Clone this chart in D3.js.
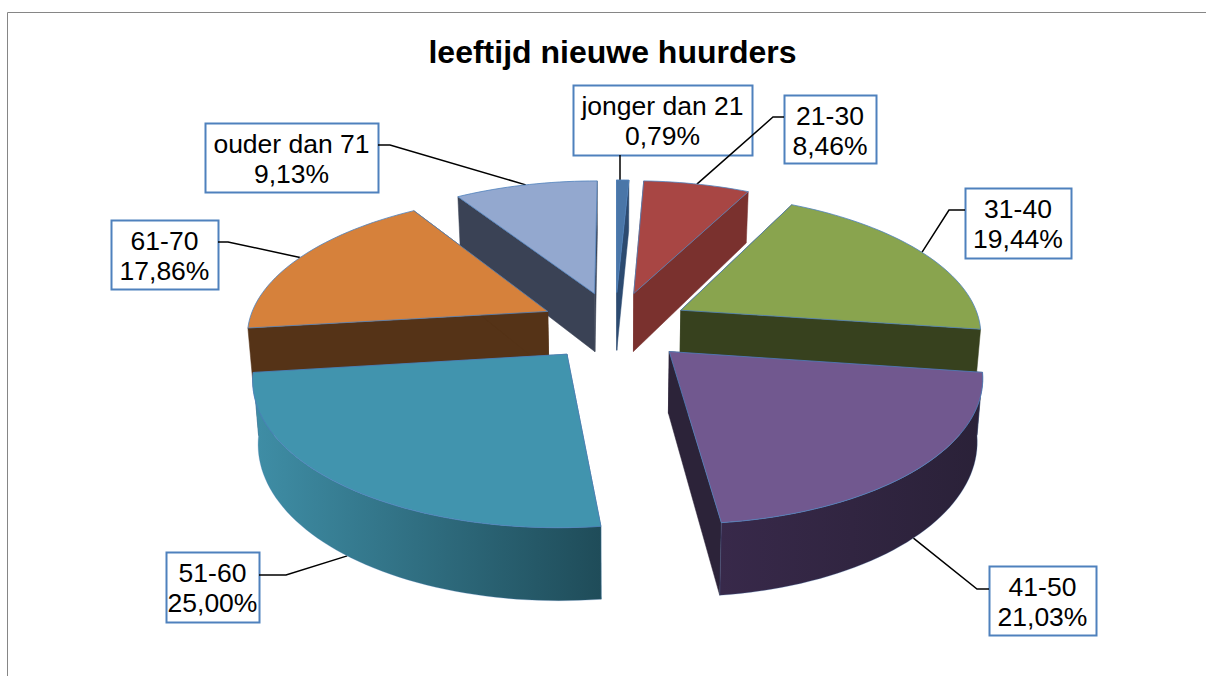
<!DOCTYPE html>
<html><head><meta charset="utf-8">
<script src="https://cdn.jsdelivr.net/npm/d3@7"></script>
<style>html,body{margin:0;background:#fff}svg{display:block}text{font-family:"Liberation Sans",Arial,sans-serif}</style>
</head><body><svg id="c" width="1206" height="676"></svg>
<script>
const categories=["jonger dan 21","21-30","31-40","41-50","51-60","61-70","ouder dan 71"];
const values=[0.79,8.46,19.44,21.03,25.00,17.86,9.13];
const valueLabels=["0,79%","8,46%","19,44%","21,03%","25,00%","17,86%","9,13%"];
// slice edges as the 3-D view shows them, in degrees clockwise from the top
const viewEdges=[0,2.8,27,98,173.3,263,327.5,360];
const topColors=["#4a76a8","#a84644","#89a44e","#71588f","#4194ae","#d6813b","#93a8cf"];
const wallColors=["#2c4a70","#7a312e","#37411e","#2c2339","#27606f","#553317","#3a4255"];
const rimLeft=["#3a618f","#8a3b38","#4a5a28","#38294a","#3f8ea6","#553317","#47516a"];
const rimRight=["#2c4a70","#7a312e","#37411e","#2a2138","#1f4c59","#553317","#3a4255"];
const drawOrder=[6,0,1,5,2,4,3];
// label box: x, y, w, h; elbow: x, y
const boxes=[[573,85,179,70],[784,95,92,68],[965,188,106,70],[989,566,107,69],[166,552,93,70],[111,220,107,69],[205,123,173,69]];
const elbows=[[620,165],[773,117],[949,210],[977,589],[286,575],[228,242],[390,145]];
const leaderOnBottom=[false,false,false,true,true,false,false];

const svg=d3.select("#c");
const cx=615,cy=326,A=142,B=308,D=6.56,H=60,E=0.245,R=0.975,bottomShrink=0.985;
const proj=(X,v,bottom)=>{const s=1/(1-v/D);return [cx+B*X*s*(bottom?bottomShrink:1), cy+A*v*s+(bottom?H*s:0)];};
const pts=(a,r,e,mid)=>({X:e*Math.sin(mid)+r*Math.sin(a), v:-e*Math.cos(mid)-r*Math.cos(a)});
const rawArcs=d3.pie().sort(null).startAngle(0).endAngle(2*Math.PI)(values);
const rawEdges=[0].concat(rawArcs.map(d=>d.endAngle));
const warp=d3.scaleLinear().domain(rawEdges).range(viewEdges.map(d=>d*Math.PI/180));
const arcs=rawArcs.map(d=>({startAngle:warp(d.startAngle),endAngle:warp(d.endAngle)}));
const line=d3.line();
const defs=svg.append("defs");

// frame
svg.append("path").attr("d","M7.5,676V12.5H1206").attr("fill","none").attr("stroke","#868686").attr("stroke-width",1);

// label boxes
categories.forEach((c,i)=>{
  const [bx,by,bw,bh]=boxes[i];
  svg.append("rect").attr("x",bx+.5).attr("y",by+.5).attr("width",bw).attr("height",bh)
    .attr("fill","#fff").attr("stroke","#4f81bd").attr("stroke-width",2);
  const t=svg.append("text").attr("text-anchor","middle").attr("font-size",26.5).attr("fill","#000");
  t.append("tspan").attr("x",bx+bw/2).attr("y",by+30).text(c);
  t.append("tspan").attr("x",bx+bw/2).attr("y",by+60).text(valueLabels[i]);
});

// leaders run over the boxes but under the pie, so they stop at its edge
categories.forEach((c,i)=>{
  const d=arcs[i],mid=(d.startAngle+d.endAngle)/2;
  const [bx,by,bw,bh]=boxes[i];
  const p=pts(mid,R,E,mid);
  const end=proj(p.X,p.v,leaderOnBottom[i]);
  const el=elbows[i];
  let start;
  if(i===0) start=[el[0],by+bh];
  else if(el[0]>bx+bw) start=[bx+bw,el[1]];
  else start=[bx,el[1]];
  const pathPts=i===0?[start,[el[0],end[1]+4]]:[start,el,end];
  svg.append("path").attr("d",line(pathPts)).attr("fill","none").attr("stroke","#000").attr("stroke-width",1.5);
});

drawOrder.forEach(i=>{
  const d=arcs[i],mid=(d.startAngle+d.endAngle)/2;
  const n=Math.max(4,Math.ceil((d.endAngle-d.startAngle)/0.03));
  const angs=d3.range(n+1).map(k=>d.startAngle+(d.endAngle-d.startAngle)*k/n);
  const apex=pts(0,0,E,mid);
  const top=angs.map(a=>{const p=pts(a,R,E,mid);return proj(p.X,p.v,false);});
  const bot=angs.map(a=>{const p=pts(a,R,E,mid);return proj(p.X,p.v,true);});
  const aT=proj(apex.X,apex.v,false),aB=proj(apex.X,apex.v,true);
  const g=svg.append("g");
  // straight side walls
  [[aT,top[0],bot[0],aB],[aT,top[n],bot[n],aB]].forEach(q=>{
    g.append("path").attr("d",line(q)+"Z").attr("fill",wallColors[i]).attr("stroke",wallColors[i]).attr("stroke-width",.5);
  });
  // outer wall: only the part that faces the viewer, when it is more than a sliver
  const facing=angs.map((a,k)=>k).filter(k=>Math.cos(angs[k])<=0);
  if(facing.length>6){
    const t=facing.map(k=>top[k]),b=facing.map(k=>bot[k]);
    const xs=t.concat(b).map(p=>p[0]);
    const gid="rim"+i;
    const lg=defs.append("linearGradient").attr("id",gid).attr("gradientUnits","userSpaceOnUse")
      .attr("x1",d3.min(xs)).attr("x2",d3.max(xs)).attr("y1",0).attr("y2",0);
    lg.append("stop").attr("offset",0).attr("stop-color",rimLeft[i]);
    lg.append("stop").attr("offset",1).attr("stop-color",rimRight[i]);
    g.append("path").attr("d",line(t.concat(b.slice().reverse()))+"Z").attr("fill",`url(#${gid})`)
      .attr("stroke","#4f81bd").attr("stroke-opacity",.45).attr("stroke-width",.6);
  }
  // top face
  g.append("path").attr("d",line([aT].concat(top))+"Z").attr("fill",topColors[i])
    .attr("stroke","#4f81bd").attr("stroke-width",.8).attr("stroke-linejoin","round");
});

svg.append("text").attr("x",612.5).attr("y",63).attr("text-anchor","middle")
  .attr("font-size",32).attr("font-weight","bold").attr("fill","#000").text("leeftijd nieuwe huurders");
</script></body></html>
